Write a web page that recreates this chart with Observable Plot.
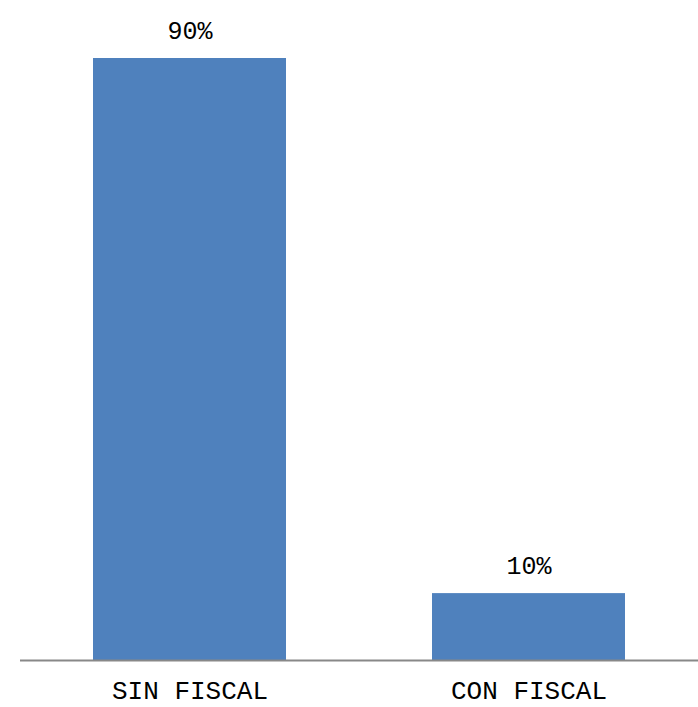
<!DOCTYPE html>
<html><head><meta charset="utf-8">
<script src="https://cdn.jsdelivr.net/npm/d3@7"></script>
<script src="https://cdn.jsdelivr.net/npm/@observablehq/plot@0.6"></script>
<style>body{margin:0;background:#fff}</style>
</head><body><div id="chart"></div>
<script>
const categories = ["SIN FISCAL", "CON FISCAL"];
const values = [90, 10];
const labels = ["90%", "10%"];
const data = categories.map((c, i) => ({cat: c, v: values[i], label: labels[i]}));

const chart = Plot.plot({
  width: 698, height: 707,
  marginLeft: 20, marginRight: 0, marginTop: 58, marginBottom: 47,
  style: {fontFamily: "Liberation Mono, monospace", background: "#fff"},
  x: {domain: categories, paddingInner: 0.43, paddingOuter: 0.215, label: null},
  y: {domain: [0, 90], axis: null},
  marks: [
    Plot.barY(data, {x: "cat", y: "v", fill: "#4f81bd"}),
    Plot.ruleY([0], {stroke: "#888", strokeWidth: 2}),
    Plot.text(data, {x: "cat", y: "v", text: "label", dy: -28, fontSize: 25, fill: "#000"}),
    Plot.axisX({tickSize: 0, tickPadding: 20, fontSize: 26, fill: "#000", label: null})
  ]
});
document.getElementById("chart").append(chart);
</script></body></html>
